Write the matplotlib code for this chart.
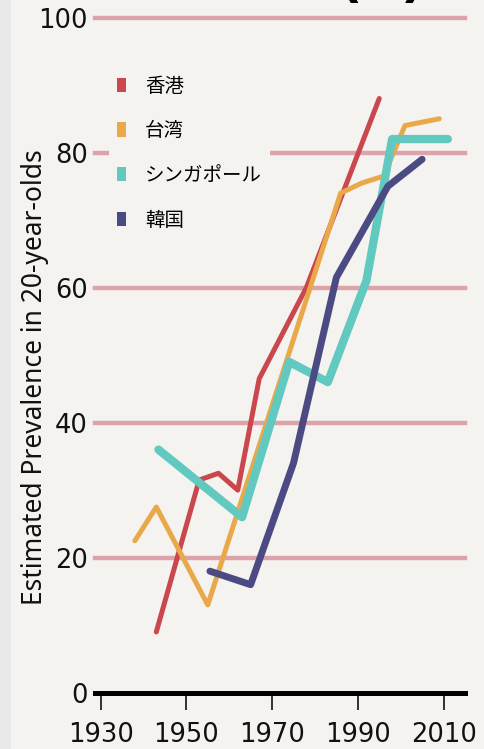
import matplotlib.pyplot as plt
from matplotlib.patches import Patch, Rectangle

# series (year, prevalence %)
names = ["香港", "台湾", "シンガポール", "韓国"]
colors = ["#c9474d", "#e9a94b", "#62c9c1", "#4b4a82"]

hk_years = [1943, 1953, 1957.5, 1962, 1967, 1978, 1995]
hk_vals = [9, 31.5, 32.5, 30, 46.5, 60, 88]

tw_years = [1938, 1943, 1955, 1986, 1991, 1996, 2001, 2009]
tw_vals = [22.5, 27.5, 13, 74, 75.5, 76.5, 84, 85]

sg_years = [1943.5, 1963, 1974, 1983, 1992, 1998, 2011]
sg_vals = [36, 26, 49, 46, 61, 82, 82]

kr_years = [1955.5, 1965, 1975, 1985, 1997, 2005]
kr_vals = [18, 16, 34, 61.5, 75, 79]

x_ticks = [1930, 1950, 1970, 1990, 2010]
y_ticks = [0, 20, 40, 60, 80, 100]

bg = "#f4f3ef"
grid_color = "#dca3ab"

fig = plt.figure(figsize=(4.85, 7.49), dpi=100, facecolor=bg)
fig.patches.append(Rectangle((0, 0), 11 / 485, 1, transform=fig.transFigure,
                             facecolor="#e9e9e9", edgecolor="none", zorder=-5))
ax = fig.add_axes([95 / 485, 1 - 692.7 / 749, 370 / 485, 675.2 / 749])
ax.set_facecolor(bg)

ax.set_xlim(1928.7, 2015)
ax.set_ylim(0, 100)

# pink horizontal rules
for v in y_ticks[1:]:
    ax.axhline(v, color=grid_color, lw=3.2, zorder=1, clip_on=False)
ax.axhline(0, color="black", lw=3.6, zorder=2, clip_on=False)

lw = [3.6, 3.6, 6.0, 5.0]
series = [(hk_years, hk_vals), (tw_years, tw_vals), (sg_years, sg_vals), (kr_years, kr_vals)]
order = [3, 2, 1, 0]  # draw korea first, hong kong on top
for i in order:
    xs, ys = series[i]
    ax.plot(xs, ys, color=colors[i], lw=lw[i], solid_capstyle="round",
            solid_joinstyle="round", zorder=3 + (3 - order.index(i)))

for s in ax.spines.values():
    s.set_visible(False)

ax.set_xticks(x_ticks)
ax.set_yticks(y_ticks)
ax.tick_params(axis="x", length=12, width=1.3, pad=9, labelsize=18.5, color="#222222")
ax.tick_params(axis="y", length=0, pad=5, labelsize=18.5)
for t in ax.get_xticklabels() + ax.get_yticklabels():
    t.set_family("DejaVu Sans")
    t.set_color("#111111")

ax.set_ylabel("Estimated Prevalence in 20-year-olds", family="Noto Sans",
              fontsize=19, color="#111111")
ax.yaxis.set_label_coords(-0.125, 0.468)

handles = [Patch(facecolor=c, edgecolor="none") for c in colors]
leg = ax.legend(handles, names, loc="upper left", bbox_to_anchor=(0.012, 0.94),
                prop={"family": ["Noto Sans CJK JP", "DejaVu Sans"], "size": 14},
                handlelength=0.45, handleheight=0.75, handletextpad=1.0,
                labelspacing=1.22, borderpad=0.4, frameon=True, fancybox=False)
leg.get_frame().set_facecolor(bg)
leg.get_frame().set_edgecolor("none")
leg.get_frame().set_alpha(1)
leg.set_zorder(10)

# panel letter, mostly cut off by the top edge (as in the source image)
fig.text(0.787, 1 + 4 / 749, "(A)", ha="center", va="baseline",
         fontsize=37, fontweight="bold", color="black")

fig.savefig("out.png", dpi=100, facecolor=bg)
